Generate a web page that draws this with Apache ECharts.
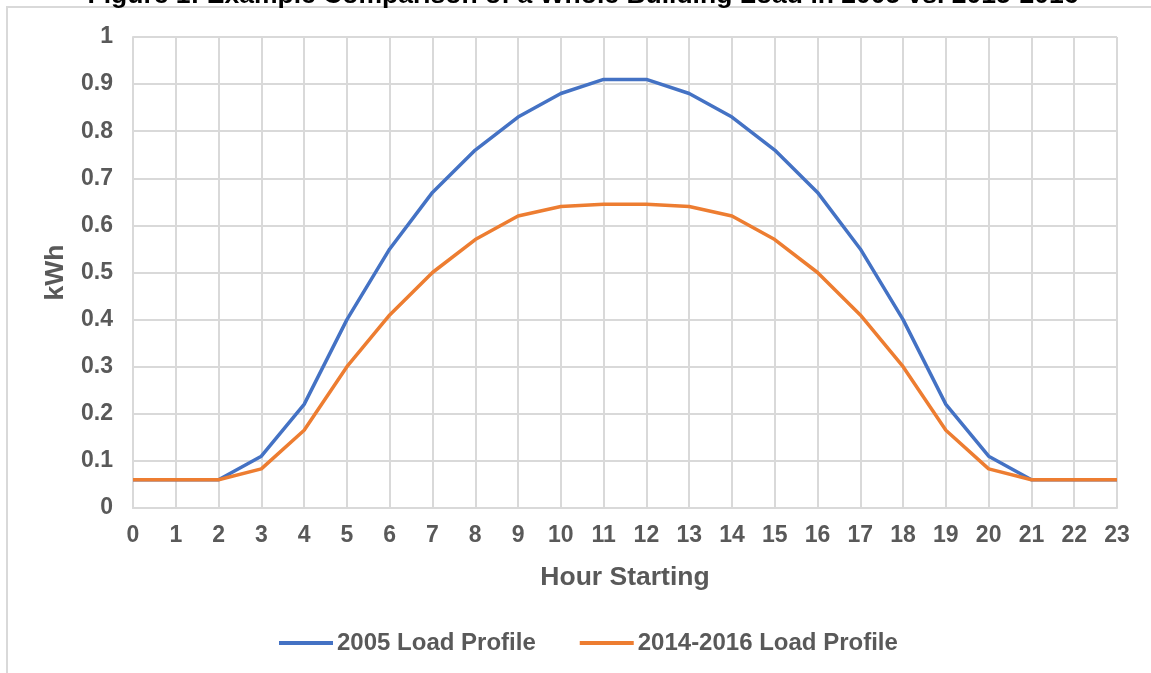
<!DOCTYPE html>
<html>
<head>
<meta charset="utf-8">
<script src="https://cdn.jsdelivr.net/npm/echarts@6/dist/echarts.min.js"></script>
<style>
html,body{margin:0;padding:0;background:#fff;}
#main{width:1151px;height:673px;}
</style>
</head>
<body>
<div id="main"></div>
<script>
var hours = ["0","1","2","3","4","5","6","7","8","9","10","11","12","13","14","15","16","17","18","19","20","21","22","23"];
var load2005 = [0.06,0.06,0.06,0.11,0.22,0.40,0.55,0.67,0.76,0.83,0.88,0.91,0.91,0.88,0.83,0.76,0.67,0.55,0.40,0.22,0.11,0.06,0.06,0.06];
var load2015 = [0.06,0.06,0.06,0.083,0.165,0.30,0.41,0.50,0.57,0.62,0.64,0.645,0.645,0.64,0.62,0.57,0.50,0.41,0.30,0.165,0.083,0.06,0.06,0.06];
var seriesNames = ["2005 Load Profile","2014-2016 Load Profile"];
var titleText = "Figure 1: Example Comparison of a Whole Building Load in 2005 vs. 2015-2016";

var FONT = "Liberation Sans";
var GRAY = "#595959";
var GRID = "#d9d9d9";

var chart = echarts.init(document.getElementById('main'), null, {renderer:'canvas'});
chart.setOption({
  animation:false,
  backgroundColor:'#fff',
  textStyle:{fontFamily:FONT},
  graphic:[
    {type:'rect', z:-10, shape:{x:7,y:7,width:1400,height:900}, style:{fill:'none',stroke:GRID,lineWidth:2}},
    {type:'text', x:583, y:9, style:{text:titleText, font:'bold 26.5px "Liberation Sans"', fill:'#000', textAlign:'center', textVerticalAlign:'bottom'}}
  ],
  grid:{left:133,right:34,top:37,bottom:165,containLabel:false},
  legend:{
    bottom:13, left:274,
    itemWidth:54, itemHeight:4, itemGap:44,
    icon:'rect',
    textStyle:{fontFamily:FONT,fontWeight:'bold',fontSize:24,color:GRAY,padding:[0,0,0,-1]},
    data:seriesNames
  },
  xAxis:{
    type:'category', data:hours, boundaryGap:false,
    name:'Hour Starting', nameLocation:'middle', nameGap:56,
    nameTextStyle:{fontFamily:FONT,fontWeight:'bold',fontSize:26.5,color:GRAY},
    axisLine:{lineStyle:{color:GRID,width:2}},
    axisTick:{show:false},
    axisLabel:{fontFamily:FONT,fontWeight:'bold',fontSize:23,color:GRAY,margin:16,interval:0},
    splitLine:{show:true,lineStyle:{color:GRID,width:2}}
  },
  yAxis:{
    type:'value', min:0, max:1, interval:0.1,
    name:'kWh', nameLocation:'middle', nameGap:64, nameRotate:90,
    nameTextStyle:{fontFamily:FONT,fontWeight:'bold',fontSize:26.5,color:GRAY},
    axisLine:{show:true,lineStyle:{color:GRID,width:2}},
    axisTick:{show:false},
    axisLabel:{fontFamily:FONT,fontWeight:'bold',fontSize:23,color:GRAY,margin:20},
    splitLine:{show:true,lineStyle:{color:GRID,width:2}}
  },
  series:[
    {name:seriesNames[0], type:'line', data:load2005, symbol:'none', lineStyle:{color:'#4472C4',width:3.5}, itemStyle:{color:'#4472C4'}},
    {name:seriesNames[1], type:'line', data:load2015, symbol:'none', lineStyle:{color:'#ED7D31',width:3.5}, itemStyle:{color:'#ED7D31'}}
  ]
});
</script>
</body>
</html>
